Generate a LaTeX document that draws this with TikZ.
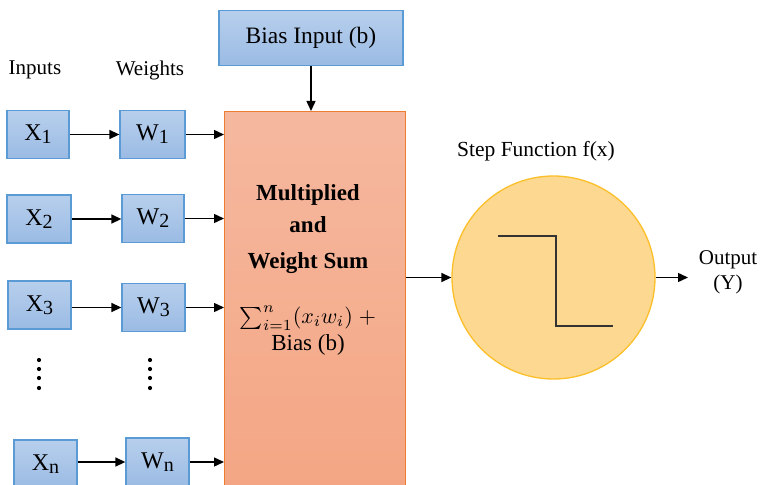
\documentclass[tikz,border=0pt]{standalone}
\usepackage{fontspec}
\setmainfont{Liberation Serif}
\usetikzlibrary{arrows.meta,shapes.geometric}
\definecolor{bluefillA}{HTML}{B7CFEC}
\definecolor{bluefillB}{HTML}{9BBBE4}
\definecolor{blueedge}{HTML}{5B9BD5}
\definecolor{orfillA}{HTML}{F5B89F}
\definecolor{orfillB}{HTML}{F4A582}
\definecolor{oredge}{HTML}{ED7D31}
\definecolor{yelfill}{HTML}{FDD891}
\definecolor{yeledge}{HTML}{FBBF2A}
\newcommand{\fs}[1]{\fontsize{#1}{#1}\selectfont}
\tikzset{
  x=1pt,y=-1pt,
  bluebox/.style={draw=blueedge, line width=1.3pt, top color=bluefillA, bottom color=bluefillB,
    minimum width=62pt, minimum height=48pt, inner sep=0pt, font=\fs{24}},
  arr/.style={-{Triangle[length=10pt,width=9pt]}, line width=1.4pt, black},
  lbl/.style={font=\fs{21}, inner sep=0pt},
  sumlbl/.style={font=\fs{23}\bfseries, inner sep=0pt},
}
\newcommand{\sub}[1]{\raisebox{-0.28ex}{\fs{20}#1}}
\begin{document}
\begin{tikzpicture}
\useasboundingbox (0,0) rectangle (762,484);
\clip (0,0) rectangle (762,484);
% labels
\node[lbl] (inl) at (35,70) {Inputs};
\node[lbl] (wl) at (150,70) {Weights};
% bias
\node[bluebox, minimum width=184pt, minimum height=55pt, font=\fs{23.5}] (bias) at (311,38) {Bias Input (b)};
% sum block
\node[draw=oredge, line width=1.3pt, top color=orfillA, bottom color=orfillB,
  minimum width=181pt, minimum height=400pt, anchor=north west, inner sep=0pt] (sum) at (224,111) {};
\node[sumlbl] (s1) at (308,195) {Multiplied};
\node[sumlbl] (s2) at (308,225) {and};
\node[sumlbl] (s3) at (308,263) {Weight Sum};
\node[inner sep=0pt] (s4) at (308,318) {\scalebox{2.2}{$\sum_{i=1}^{n}(x_i w_i)\;+$}};
\node[inner sep=0pt, font=\fs{23}] (s5) at (308,345) {Bias (b)};
% inputs and weights
\node[bluebox] (x1) at (38,134.5) {X\sub{1}};
\node[bluebox, minimum width=65pt] (w1) at (152.5,134.5) {W\sub{1}};
\node[bluebox, minimum width=64pt] (x2) at (39,219) {X\sub{2}};
\node[bluebox] (w2) at (153,218.5) {W\sub{2}};
\node[bluebox, minimum width=63pt] (x3) at (39.5,305) {X\sub{3}};
\node[bluebox, minimum width=63pt] (w3) at (153.5,307.5) {W\sub{3}};
\node[bluebox, minimum width=63pt] (xn) at (45.5,464) {X\sub{n}};
\node[bluebox, minimum width=63pt] (wn) at (157.5,462) {W\sub{n}};
% dots
\foreach \yy in {360,369,378,388} {
  \fill (39,\yy) circle (2.1pt);
  \fill (150,\yy) circle (2.1pt);
}
% arrows
\draw[arr] (x1) -- (w1);
\draw[arr] (x2.east) -- (x2.east -| w2.west);
\draw[arr] (x3.east |- w3.east) -- (w3.west);
\draw[arr] (xn.east |- wn.east) -- (wn.west);
\draw[arr] (w1.east) -- (w1.east -| sum.west);
\draw[arr] (w2.east) -- (w2.east -| sum.west);
\draw[arr] (w3.east) -- (w3.east -| sum.west);
\draw[arr] (wn.east) -- (wn.east -| sum.west);
\draw[arr] (bias.south) -- (bias.south |- sum.north);
% step function
\node[circle, draw=yeledge, line width=1.3pt, fill=yelfill, minimum size=203pt, inner sep=0pt] (step) at (553.5,277.5) {};
\node[lbl, font=\fs{21.5}] (stepl) at (536,151) {Step Function f(x)};
\draw[line width=1.5pt, black!80, line join=miter] (498,236) -- (556,236) -- (556,326) -- (613,326);
\draw[arr] (sum.east |- step.west) -- (step.west);
\coordinate (outend) at (688,277.5);
\draw[arr] (step.east) -- (outend);
\node[lbl, align=center, font=\fs{21}] (outl) at (728,272) {Output\\[4pt](Y)};
\end{tikzpicture}
\end{document}
